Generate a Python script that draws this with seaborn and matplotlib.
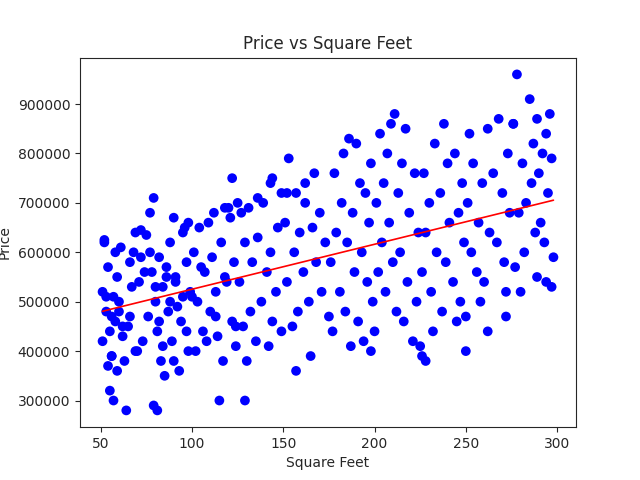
import numpy as np
import seaborn as sns
import matplotlib.pyplot as plt

# points (square feet, price)
sqft = [
    52, 54, 51, 57, 60, 53, 66, 58, 62, 55, 51, 70, 56, 63, 54, 59, 55, 57, 64, 68, 61, 72, 66, 74, 59, 71, 67, 69, 72, 75, 52, 58, 53, 60, 56, 65, 62, 73, 69, 56,
    79, 77, 95, 88, 82, 97, 78, 86, 91, 84, 99, 80, 92, 87, 76, 94, 81, 89, 98, 83, 93, 85, 79, 81, 90, 98, 96, 77, 86, 91, 80, 95, 88, 82, 97, 84, 90,
    118, 112, 121, 109, 104, 116, 101, 123, 107, 119, 113, 103, 110, 122, 106, 114, 108, 124, 102, 117, 115, 122, 125, 120, 111, 105, 118, 100, 113, 124,
    139, 131, 127, 147, 136, 129, 143, 133, 141, 126, 146, 138, 132, 144, 128, 149, 135, 142, 130, 129, 144, 143, 149, 136,
    153, 157, 162, 170, 151, 166, 159, 173, 156, 168, 161, 152, 171, 164, 158, 175, 155, 157, 165, 167, 162, 152,
    186, 190, 183, 198, 178, 192, 195, 182, 188, 197, 179, 185, 193, 176, 189, 196, 181, 199, 184, 191, 177, 194, 187, 198,
    211, 209, 217, 203, 207, 215, 222, 205, 213, 201, 219, 208, 224, 204, 214, 210, 202, 218, 206, 223, 212, 216, 200, 221, 225,
    238, 233, 244, 240, 227, 248, 236, 230, 246, 241, 228, 249, 234, 239, 226, 243, 231, 247, 237, 245, 232, 250, 226, 228,
    268, 276, 262, 252, 273, 254, 265, 259, 270, 251, 274, 257, 263, 267, 253, 271, 256, 260, 272, 258, 250, 262,
    278, 285, 296, 289, 276, 294, 287, 292, 297, 281, 290, 286, 295, 283, 279, 291, 288, 293, 282, 298, 277, 289, 294, 297, 280, 272,
]
price = [
    620, 570, 520, 510, 500, 480, 470, 460, 450, 440, 420, 400, 390, 380, 370, 360, 320, 300, 280, 600, 610, 590, 580, 560, 550, 540, 530, 640, 645, 635, 625, 600, 510, 480, 470, 450, 430, 420, 400, 390,
    710, 680, 640, 620, 590, 580, 560, 550, 540, 530, 520, 500, 490, 480, 470, 460, 440, 420, 400, 380, 360, 350, 290, 280, 670, 660, 650, 600, 570, 550, 530, 510, 500, 460, 440, 410, 380,
    690, 680, 670, 660, 650, 620, 600, 580, 560, 540, 520, 500, 480, 460, 440, 430, 420, 410, 400, 380, 300, 750, 700, 690, 590, 570, 550, 510, 470, 450,
    700, 690, 680, 650, 630, 620, 600, 580, 560, 540, 520, 500, 480, 460, 450, 440, 420, 410, 380, 300, 750, 740, 720, 710,
    790, 720, 700, 680, 660, 650, 640, 620, 600, 580, 560, 540, 520, 500, 480, 470, 450, 360, 390, 760, 740, 720,
    830, 820, 800, 780, 760, 740, 720, 700, 680, 660, 640, 620, 600, 580, 560, 540, 520, 500, 480, 460, 440, 420, 410, 400,
    880, 860, 850, 840, 800, 780, 760, 740, 720, 700, 680, 660, 640, 620, 600, 580, 560, 540, 520, 500, 480, 460, 440, 420, 410,
    860, 820, 800, 780, 760, 740, 720, 700, 680, 660, 640, 620, 600, 580, 560, 540, 520, 500, 480, 460, 440, 400, 390, 380,
    870, 860, 850, 840, 800, 780, 760, 740, 720, 700, 680, 660, 640, 620, 600, 580, 560, 540, 520, 500, 470, 440,
    960, 910, 880, 870, 860, 840, 820, 800, 790, 780, 760, 740, 720, 700, 680, 660, 640, 620, 600, 590, 570, 550, 540, 530, 520, 470,
]
x = np.array(sqft, dtype=float)
y = np.array(price, dtype=float) * 1000

sns.set_style("ticks")
plt.rcParams['font.family'] = ['DejaVu Sans']
fig, ax = plt.subplots(figsize=(6.4, 4.8), dpi=100)

sns.scatterplot(x=x, y=y, ax=ax, color="blue", s=49, edgecolor="none", linewidth=0)
slope, icpt = np.polyfit(x, y, 1)
xs = np.array([x.min(), x.max()])
sns.lineplot(x=xs, y=slope * xs + icpt, ax=ax, color="red", linewidth=1.2)

ax.set_title("Price vs Square Feet")
ax.set_xlabel("Square Feet")
ax.set_ylabel("Price")
ax.ticklabel_format(axis="y", style="plain")
ax.set_xticks([50, 100, 150, 200, 250, 300])
fig.savefig("out.png")
